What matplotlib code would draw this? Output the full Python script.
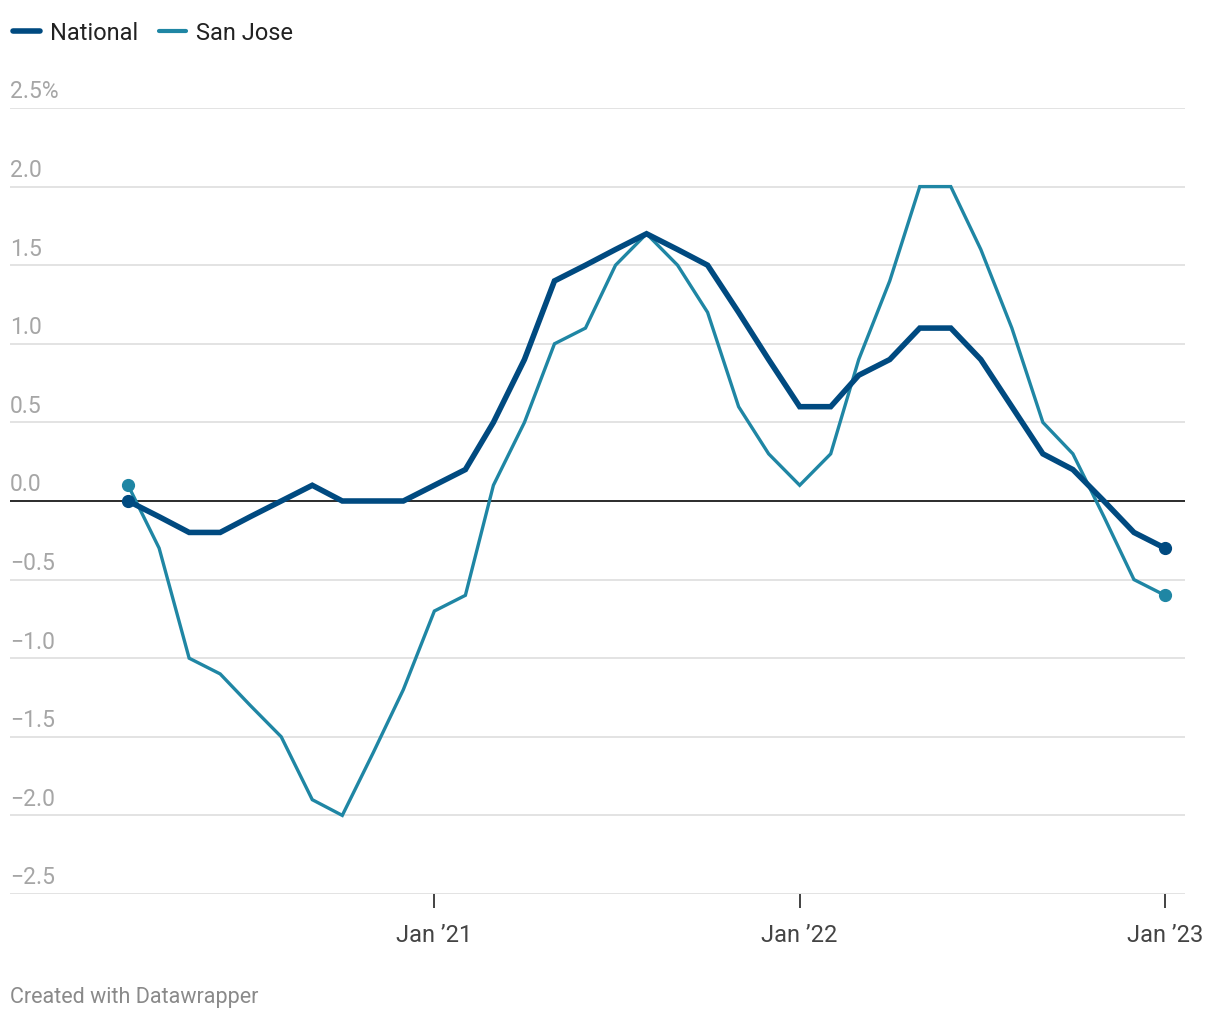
import matplotlib as mpl
import matplotlib.pyplot as plt
import matplotlib.dates as mdates
import matplotlib.ticker as ticker
import numpy as np
import pandas as pd

# monthly values, Mar 2020 - Jan 2023
months = pd.date_range("2020-03-01", "2023-01-01", freq="MS")
national = [0.0, -0.1, -0.2, -0.2, -0.1, 0.0, 0.1, 0.0, 0.0, 0.0,
            0.1, 0.2, 0.5, 0.9, 1.4, 1.5, 1.6, 1.7, 1.6, 1.5,
            1.2, 0.9, 0.6, 0.6, 0.8, 0.9, 1.1, 1.1, 0.9, 0.6,
            0.3, 0.2, 0.0, -0.2, -0.3]
san_jose = [0.1, -0.3, -1.0, -1.1, -1.3, -1.5, -1.9, -2.0, -1.6, -1.2,
            -0.7, -0.6, 0.1, 0.5, 1.0, 1.1, 1.5, 1.7, 1.5, 1.2,
            0.6, 0.3, 0.1, 0.3, 0.9, 1.4, 2.0, 2.0, 1.6, 1.1,
            0.5, 0.3, -0.1, -0.5, -0.6]
y_ticks = [2.5, 2.0, 1.5, 1.0, 0.5, 0.0, -0.5, -1.0, -1.5, -2.0, -2.5]
x_ticks = ["2021-01-01", "2022-01-01", "2023-01-01"]
x_labels = ["Jan \u201921", "Jan \u201922", "Jan \u201923"]

plt.rcParams["font.family"] = ["Roboto", "DejaVu Sans"]

c_nat = "#004a80"
c_sj = "#1f86a4"

fig = plt.figure(figsize=(12.2, 10.2), dpi=100)
ax = fig.add_axes([10 / 1220, 125 / 1020, 1175 / 1220, 786 / 1020])

for y in y_ticks:
    if y == 0:
        continue
    ax.axhline(y, color="#e3e3e3", lw=1.4, zorder=1)
ax.axhline(0, color="#1a1a1a", lw=1.3, zorder=2)

ax.plot(months, san_jose, color=c_sj, lw=2.4, solid_joinstyle="miter", zorder=3)
ax.plot(months, national, color=c_nat, lw=4.0, solid_joinstyle="miter", zorder=4)
ax.plot(months[[0, -1]], np.array(san_jose)[[0, -1]], "o", color=c_sj, ms=8.5, zorder=3)
ax.plot(months[[0, -1]], np.array(national)[[0, -1]], "o", color=c_nat, ms=8.5, zorder=4)

ax.set_ylim(-2.5, 2.5)
ax.set_xlim(pd.Timestamp("2019-11-04"), pd.Timestamp("2023-01-21"))

for s in ax.spines.values():
    s.set_visible(False)
ax.set_yticks([])
ax.set_xticks(pd.to_datetime(x_ticks))
ax.set_xticklabels(x_labels, fontsize=17, color="#444444")
ax.tick_params(axis="x", length=10, width=1.2, color="#222222", pad=11)

for y in y_ticks:
    lab = "%.1f" % y
    if y == 2.5:
        lab += "%"
    lab = lab.replace("-", "\u2212")
    ax.annotate(lab, xy=(0, y), xycoords=("axes fraction", "data"),
                xytext=(0, 4), textcoords="offset points",
                fontsize=16.5, color="#a6a6a6", va="bottom", ha="left")

# legend
fig.add_artist(mpl.lines.Line2D([13 / 1220, 40 / 1220], [988 / 1020, 988 / 1020],
                                color=c_nat, lw=4.0, solid_capstyle="round"))
fig.text(50 / 1220, 987 / 1020, "National", fontsize=17, color="#222222", va="center")
fig.add_artist(mpl.lines.Line2D([159 / 1220, 186 / 1220], [988 / 1020, 988 / 1020],
                                color=c_sj, lw=3.0, solid_capstyle="round"))
fig.text(196 / 1220, 987 / 1020, "San Jose", fontsize=17, color="#222222", va="center")

fig.text(10 / 1220, 22 / 1020, "Created with Datawrapper", fontsize=15.5,
         color="#8a8a8a", va="center")

plt.savefig("out.png", dpi=100)
